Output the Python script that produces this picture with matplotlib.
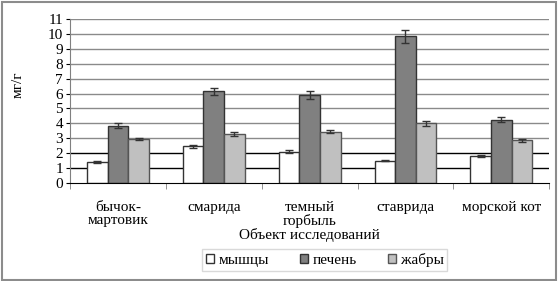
import matplotlib.pyplot as plt
import numpy as np
from matplotlib.patches import Rectangle

plt.rcParams['font.family'] = ['Liberation Serif', 'DejaVu Serif']

objects = ['бычок-\nмартовик', 'смарида', 'темный\nгорбыль', 'ставрида', 'морской кот']
muscles = [1.4, 2.45, 2.1, 1.5, 1.8]
liver = [3.85, 6.15, 5.9, 9.85, 4.25]
gills = [2.95, 3.3, 3.45, 4.0, 2.85]
muscles_err = [0.05, 0.1, 0.08, 0.05, 0.05]
liver_err = [0.15, 0.25, 0.25, 0.45, 0.15]
gills_err = [0.1, 0.15, 0.12, 0.15, 0.1]
series = ['мышцы', 'печень', 'жабры']

fig = plt.figure(figsize=(5.58, 2.81), dpi=100)
fig.patches.append(Rectangle((0.003, 0.004), 0.993, 0.99, transform=fig.transFigure,
                             fill=False, edgecolor='#8c8c8c', lw=1.5))
ax = fig.add_axes([0.1254, 0.349, 0.859, 0.583])

x = np.arange(len(objects))
w = 0.215
colors = ['white', '#808080', '#c0c0c0']
edges = ['#333333', '#333333', '#555555']
data = [muscles, liver, gills]
errs = [muscles_err, liver_err, gills_err]

for y in range(1, 12):
    ax.axhline(y, color='black' if y <= 2 else '#8a8a8a', lw=1, zorder=0)

for i in range(3):
    ax.bar(x + (i - 1) * w, data[i], w, color=colors[i], edgecolor=edges[i],
           lw=1, label=series[i], zorder=2,
           yerr=errs[i], capsize=3, error_kw=dict(ecolor='#333333', elinewidth=1, capthick=1))

ax.set_ylim(0, 11)
ax.set_xlim(-0.5, len(objects) - 0.5)
ax.set_yticks(range(0, 12))
ax.tick_params(axis='y', labelsize=11, length=3, pad=2)
ax.set_xticks(x)
ax.set_xticklabels(objects, fontsize=11, linespacing=1.0)
ax.tick_params(axis='x', length=0, pad=13)
ax.set_xticks(np.arange(-0.5, len(objects), 1), minor=True)
ax.tick_params(axis='x', which='minor', length=4, color='#808080')
for s in ['top', 'right']:
    ax.spines[s].set_visible(False)
ax.spines['left'].set_color('#808080')
ax.spines['bottom'].set_color('black')
ax.set_ylabel('мг/г', fontsize=11)
ax.yaxis.set_label_coords(-0.095, 0.6)
ax.set_xlabel('Объект исследований', fontsize=11, labelpad=0)

leg = fig.legend(loc='center', bbox_to_anchor=(0.582, 0.075), ncol=3, fontsize=11,
                 frameon=True, fancybox=False, edgecolor='#d0d0d0', handlelength=0.55,
                 handleheight=0.55, handletextpad=0.3, columnspacing=2.0,
                 borderpad=0.25)

fig.savefig('out.png', dpi=100)
